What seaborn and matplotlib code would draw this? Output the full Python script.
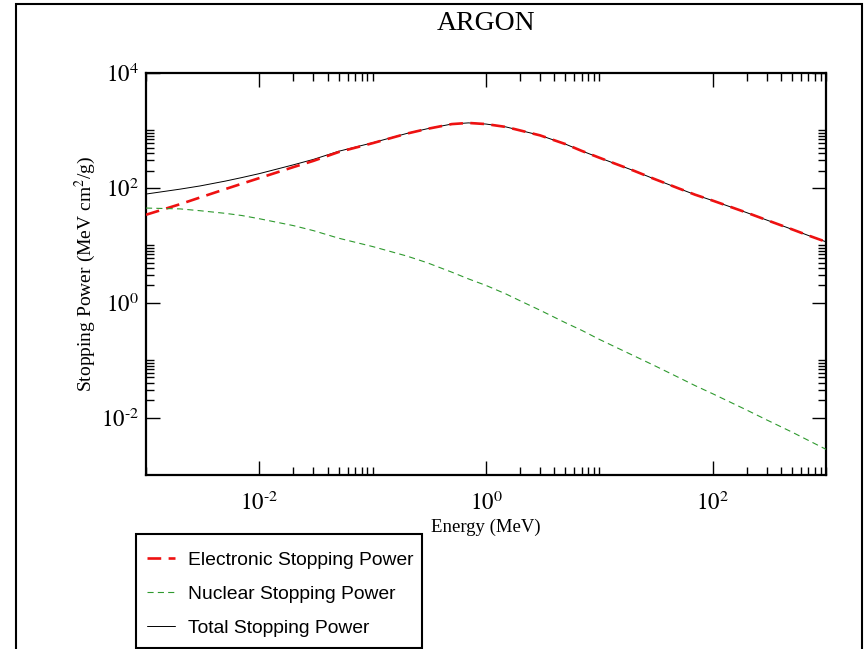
import numpy as np
import pandas as pd
import seaborn as sns
import matplotlib
matplotlib.use("Agg")
import matplotlib.pyplot as plt
from matplotlib.ticker import FixedLocator, FixedFormatter, NullFormatter
from matplotlib.patches import Rectangle
from matplotlib.lines import Line2D

# ---- data ----
energy = [1e-3, 2e-3, 3e-3, 5e-3, 7e-3, 1e-2, 2e-2, 3e-2, 5e-2, 0.1, 0.2, 0.3,
          0.5, 0.7, 1.0, 1.5, 2.0, 3.0, 5.0, 7.0, 10.0, 20.0, 30.0, 50.0, 70.0,
          100.0, 200.0, 300.0, 500.0, 700.0, 1000.0]
electronic = [34, 52, 68, 95, 118, 148, 230, 295, 420, 600, 880, 1060,
              1290, 1350, 1290, 1150, 1000, 820, 580, 440, 335, 200, 145, 98, 76,
              60, 37, 27.5, 19, 14.8, 11.5]
nuclear = [44.5, 43, 40, 36, 33, 29, 22, 18, 13.3, 9.5, 6.5, 5.0,
           3.4, 2.6, 2.0, 1.42, 1.08, 0.74, 0.45, 0.33, 0.23, 0.12, 0.082, 0.050, 0.036,
           0.026, 0.0135, 0.0091, 0.0056, 0.0040, 0.0028]
total = [78, 95, 108, 131, 151, 177, 252, 313, 433, 610, 886, 1065,
         1293, 1353, 1292, 1151, 1001, 821, 580, 440, 335, 200, 145, 98, 76,
         60, 37, 27.5, 19, 14.8, 11.5]

x_major = [1e-2, 1e0, 1e2]
x_major_labels = [r"$10^{\text{-}2}$", r"$10^{0}$", r"$10^{2}$"]
y_major = [1e-2, 1e0, 1e2, 1e4]
y_major_labels = [r"$10^{\text{-}2}$", r"$10^{0}$", r"$10^{2}$", r"$10^{4}$"]

title = "ARGON"
xlabel = "Energy (MeV)"
ylabel = r"Stopping Power (MeV cm$^{2}$/g)"
labels = ["Electronic Stopping Power", "Nuclear Stopping Power", "Total Stopping Power"]

df = pd.DataFrame({"energy": energy, "electronic": electronic,
                   "nuclear": nuclear, "total": total})

# ---- style ----
sns.set_style("ticks")
plt.rcParams["font.family"] = ["Liberation Serif", "DejaVu Serif"]
plt.rcParams["mathtext.fontset"] = "stix"
plt.rcParams["text.color"] = "black"
plt.rcParams["axes.labelcolor"] = "black"
plt.rcParams["xtick.color"] = "black"
plt.rcParams["ytick.color"] = "black"

W, H = 865, 649
fig = plt.figure(figsize=(W / 100, H / 100), dpi=100)
fig.patch.set_facecolor("white")

L, R, T, B = 146, 826, 73, 475
ax = fig.add_axes([L / W, 1 - B / H, (R - L) / W, (B - T) / H])
ax.set_facecolor("white")

red_ls = (0, (5.2, 2.8))
green_ls = (0, (5.5, 3.8))

sns.lineplot(data=df, x="energy", y="electronic", ax=ax, color="#ee1111",
             linewidth=1.9, linestyle=red_ls, zorder=3)
sns.lineplot(data=df, x="energy", y="nuclear", ax=ax, color="#2f9a2f",
             linewidth=0.8, linestyle=green_ls, zorder=3)
sns.lineplot(data=df, x="energy", y="total", ax=ax, color="black",
             linewidth=0.7, zorder=2)

ax.set_xscale("log")
ax.set_yscale("log")
ax.set_xlim(1e-3, 1e3)
ax.set_ylim(1e-3, 1e4)

# Grace-style ticks: majors every two decades, minors n*major (n=2..10)
ax.xaxis.set_major_locator(FixedLocator(x_major))
ax.xaxis.set_major_formatter(FixedFormatter(x_major_labels))
ax.yaxis.set_major_locator(FixedLocator(y_major))
ax.yaxis.set_major_formatter(FixedFormatter(y_major_labels))
xminor = [n * m for m in [1e-4] + x_major for n in range(2, 11)]
yminor = [n * m for m in y_major for n in range(2, 11)]
ax.xaxis.set_minor_locator(FixedLocator(xminor))
ax.yaxis.set_minor_locator(FixedLocator(yminor))
ax.xaxis.set_minor_formatter(NullFormatter())
ax.yaxis.set_minor_formatter(NullFormatter())

ax.tick_params(which="both", direction="in", top=True, right=True,
               color="black", labelcolor="black", width=1.0)
ax.tick_params(which="major", length=10)
ax.tick_params(which="minor", length=5.5)
ax.tick_params(axis="x", which="major", pad=12, labelsize=16.5)
ax.tick_params(axis="y", which="major", pad=5, labelsize=16.5)
for sp in ax.spines.values():
    sp.set_visible(True)
    sp.set_linewidth(1.6)
    sp.set_color("black")

ax.set_xlabel(xlabel, fontsize=13.5, color="black")
ax.set_ylabel(ylabel, fontsize=14, color="black")
ax.xaxis.set_label_coords(0.5, -(519 - B) / (B - T))
ax.yaxis.set_label_coords((98 - L) / (R - L), 0.5)

fig.text(486 / W, 1 - 24 / H, title, ha="center", va="center", fontsize=20,
         color="black")

# legend (entries without frame; frame drawn as a separate box)
handles = [Line2D([], [], color="#ee1111", linewidth=1.9, linestyle=red_ls),
           Line2D([], [], color="#2f9a2f", linewidth=0.8, linestyle=green_ls),
           Line2D([], [], color="black", linewidth=0.7)]
leg = fig.legend(handles, labels, loc="upper left",
                 bbox_to_anchor=(147 / W, 1 - 551 / H),
                 bbox_transform=fig.transFigure,
                 prop={"family": "Liberation Sans", "size": 13.9},
                 frameon=False, handlelength=1.45, handletextpad=0.65,
                 labelspacing=0.87, borderpad=0.0, borderaxespad=0)
for t in leg.get_texts():
    t.set_color("black")
fig.patches.append(Rectangle((136 / W, 1 - 648 / H), (422 - 136) / W, (648 - 534) / H,
                             transform=fig.transFigure, fill=False,
                             edgecolor="black", linewidth=1.5, zorder=5))

# outer frame
fig.patches.append(Rectangle((16 / W, -0.05), (862 - 16) / W, 1.05 - 4 / H,
                             transform=fig.transFigure, fill=False,
                             edgecolor="black", linewidth=1.5, zorder=0))

fig.savefig("out.png", dpi=100, facecolor="white")
